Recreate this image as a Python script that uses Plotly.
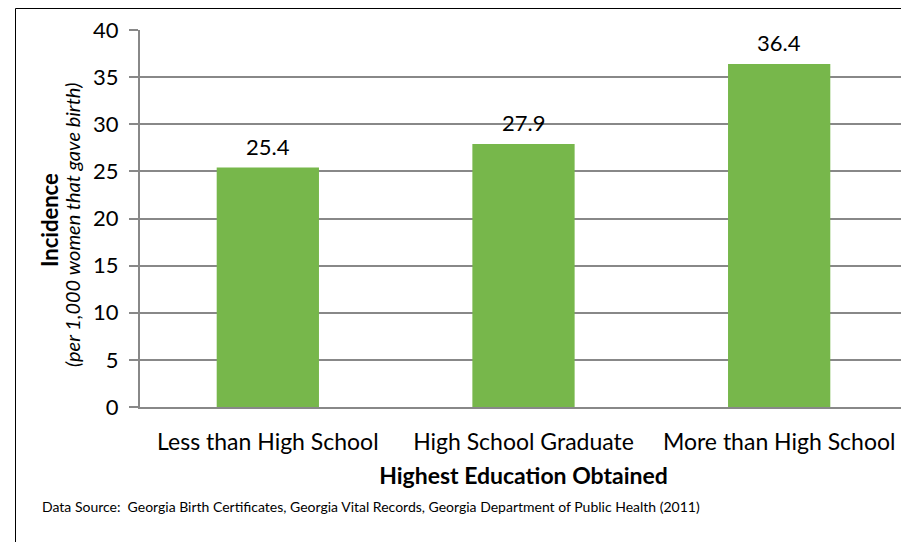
import plotly.graph_objects as go

categories = ["Less than High School", "High School Graduate", "More than High School"]
values = [25.4, 27.9, 36.4]
value_labels = ["25.4", "27.9", "36.4"]
y_ticks = [0, 5, 10, 15, 20, 25, 30, 35, 40]

FONT = "Lato, 'Open Sans', sans-serif"
BAR = "#77B74B"
GRID = "#888888"

# page has an 8px body margin; figure is placed at (8, 8)
OFF = 8
W, H = 909 - OFF, 542 - OFF
L, R, T, B = 132, 2, 22, 135
pw, ph = W - L - R, H - T - B

def px_x(x):
    return (x - OFF - L) / pw

def px_y(y):
    return (H - B - (y - OFF)) / ph

fig = go.Figure()
fig.add_trace(go.Bar(
    x=categories, y=values,
    marker=dict(color=BAR, line=dict(width=0)),
    cliponaxis=False,
))
for c, v, t in zip(categories, values, value_labels):
    fig.add_annotation(
        x=c, y=v, text=t, showarrow=False, yanchor="bottom", yshift=6,
        font=dict(size=22, color="#000000", family=FONT),
    )

fig.update_layout(
    width=W, height=H,
    margin=dict(l=L, r=R, t=T, b=B),
    paper_bgcolor="white", plot_bgcolor="white",
    bargap=0.6,
    showlegend=False,
    font=dict(family=FONT, color="#000000"),
    xaxis=dict(
        showgrid=False, showline=True, linecolor=GRID, linewidth=2,
        tickfont=dict(size=23, family=FONT), ticks="", ticklabelstandoff=13,
        title=dict(text="<b>Highest Education Obtained</b>", font=dict(size=23, family=FONT), standoff=14),
    ),
    yaxis=dict(
        range=[0, 40], tickvals=y_ticks,
        showgrid=True, gridcolor=GRID, gridwidth=1.5,
        showline=True, linecolor=GRID, linewidth=2,
        ticks="outside", ticklen=9, tickcolor=GRID, tickwidth=1.5,
        tickfont=dict(size=22, family=FONT), ticklabelstandoff=6,
        zeroline=False,
    ),
)

fig.add_annotation(
    text="<b>Incidence</b>", textangle=-90, showarrow=False,
    xref="paper", yref="paper", x=px_x(49), y=px_y(220),
    xanchor="center", yanchor="middle", font=dict(size=22, family=FONT),
)
fig.add_annotation(
    text="<i>(per 1,000 women that gave birth)</i>", textangle=-90, showarrow=False,
    xref="paper", yref="paper", x=px_x(72), y=px_y(225),
    xanchor="center", yanchor="middle", font=dict(size=20, family=FONT),
)
fig.add_annotation(
    text="Data Source:  Georgia Birth Certificates, Georgia Vital Records, Georgia Department of Public Health (2011)",
    showarrow=False, xref="paper", yref="paper", x=px_x(40), y=px_y(506),
    xanchor="left", yanchor="middle", font=dict(size=14, family=FONT),
)
fig.add_shape(
    type="rect", xref="paper", yref="paper",
    x0=px_x(15.5), x1=px_x(915), y0=px_y(548), y1=px_y(8.5),
    line=dict(color="#000000", width=1), fillcolor="rgba(0,0,0,0)", layer="below",
)

fig.write_html("out.html")
